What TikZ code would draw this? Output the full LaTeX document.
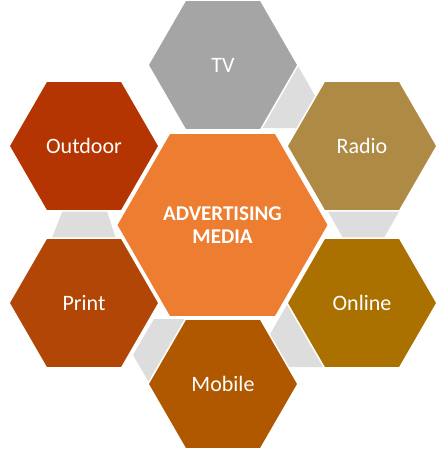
\documentclass[tikz,border=0pt]{standalone}
\usepackage{fontspec}
\setmainfont{Carlito}
\usetikzlibrary{shapes.geometric}
\definecolor{mediaorange}{RGB}{237,125,49}
\definecolor{tvgrey}{RGB}{165,165,165}
\definecolor{radiotan}{RGB}{174,138,69}
\definecolor{onlinegold}{RGB}{170,112,0}
\definecolor{mobilebrown}{RGB}{175,88,0}
\definecolor{printrust}{RGB}{178,70,6}
\definecolor{outdoorred}{RGB}{180,52,2}
\definecolor{linkgrey}{RGB}{221,221,221}
\newcommand*{\lbl}[1]{\fontsize{22}{26}\selectfont #1}

\begin{document}
\begin{tikzpicture}[x=1pt,y=-1pt,
  hexbox/.style={regular polygon,regular polygon sides=6,inner sep=0pt,
                 minimum size=150pt,draw=white,line width=1.5pt,text=white},
  centrebox/.style={hexbox,minimum size=212pt,align=center,
                    font=\fontsize{21}{23}\selectfont\bfseries}]
\useasboundingbox (0,0) rectangle (446,450);
% Grey links between neighbouring hexagons, drawn first so they sit behind
\fill[linkgrey] (262,128) -- (250,97) -- (262,66) -- (298,66) -- (316,97.5) -- (298,128) -- cycle;
\fill[linkgrey] (326,208) -- (401,208) -- (384,238) -- (343,238) -- cycle;
\fill[linkgrey] (288,303) -- (325,303) -- (343,335) -- (325,367) -- (288,367) -- (269.5,335) -- cycle;
\fill[linkgrey] (133,355) -- (154,319) -- (195,319) -- (216,355) -- (195,391) -- (154,391) -- cycle;
\fill[linkgrey] (65,205) -- (105,205) -- (118,245) -- (49,245) -- cycle;
% Outer ring of media
\node[hexbox,fill=tvgrey]      (tv)      at (223,65)  {\lbl{TV}};
\node[hexbox,fill=radiotan]    (radio)   at (362,146) {\lbl{Radio}};
\node[hexbox,fill=onlinegold]  (online)  at (362,303) {\lbl{Online}};
\node[hexbox,fill=mobilebrown] (mobile)  at (223,384) {\lbl{Mobile}};
\node[hexbox,fill=printrust]   (print)   at (84,303)  {\lbl{Print}};
\node[hexbox,fill=outdoorred]  (outdoor) at (84,146)  {\lbl{Outdoor}};
% Big hexagon in the middle
\node[centrebox,fill=mediaorange] (media) at (222.5,225) {ADVERTISING\\MEDIA};
\end{tikzpicture}
\end{document}
